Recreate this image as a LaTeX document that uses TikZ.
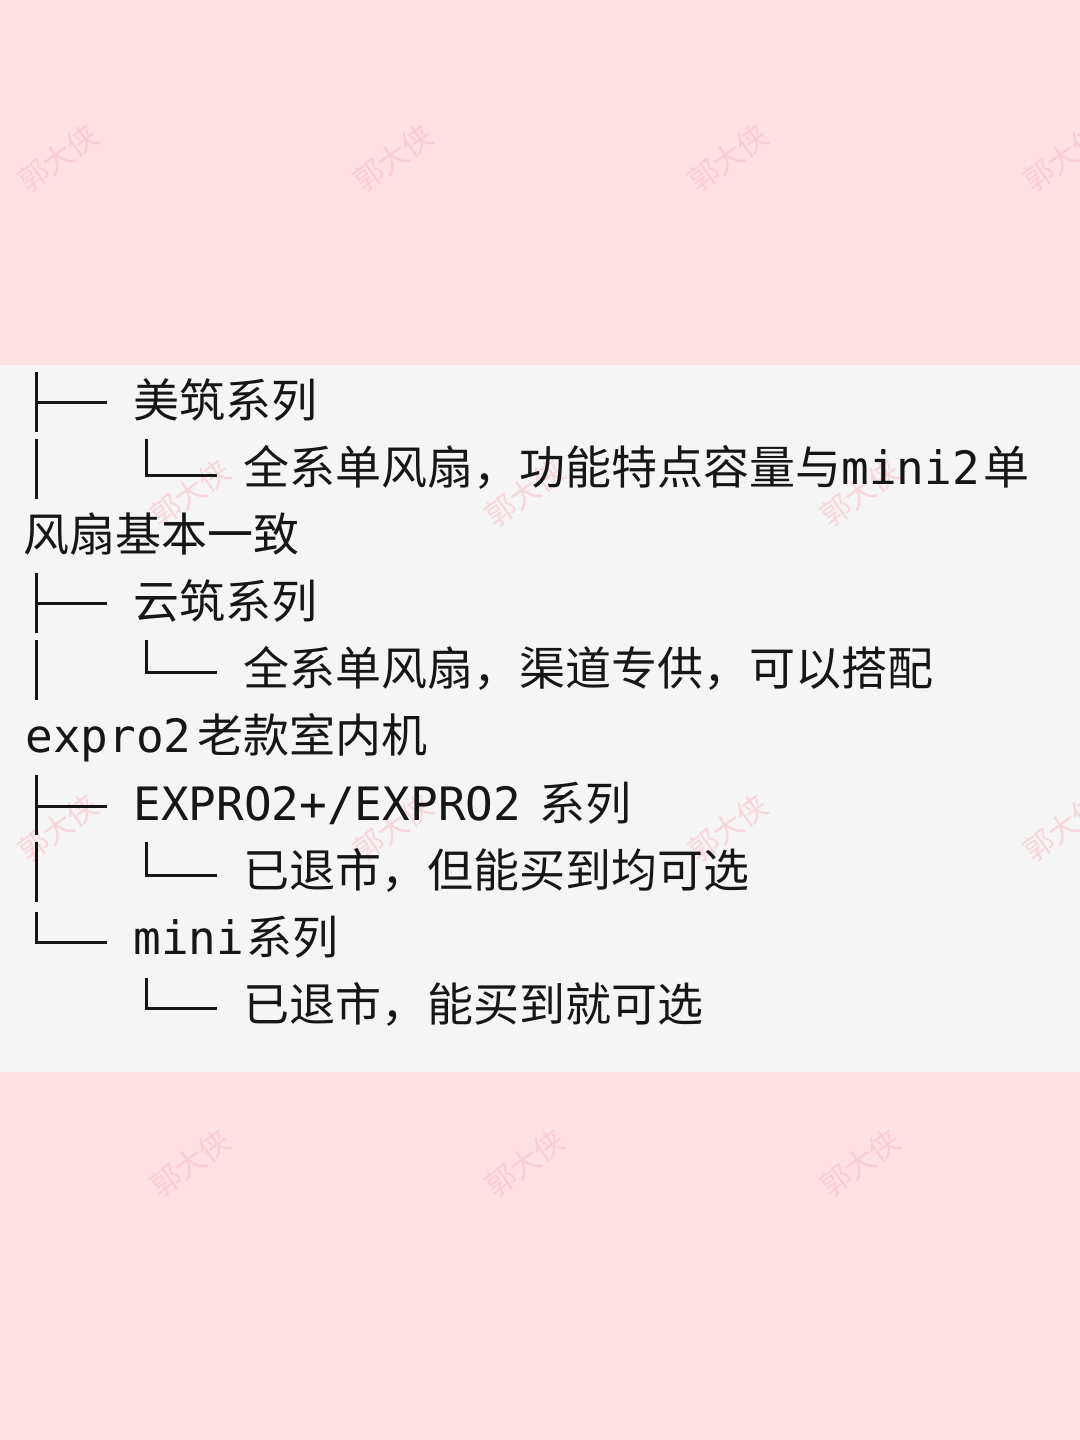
\documentclass[tikz,border=0pt]{standalone}
\usepackage{fontspec}
\newfontfamily\cjk{Noto Sans CJK SC}
\newfontfamily\mono{DejaVu Sans Mono}
\definecolor{bgpink}{RGB}{255,225,227}
\definecolor{panelgray}{RGB}{245,245,245}
\definecolor{ink}{RGB}{22,22,22}
\definecolor{wmpink}{RGB}{249,205,209}
\definecolor{wmpanel}{RGB}{246,216,220}
\tikzset{
  txt/.style={anchor=base west, inner sep=0pt, text=ink, font=\cjk\fontsize{23pt}{23pt}\selectfont},
  wm/.style={rotate=36, inner sep=0pt, font=\cjk\fontsize{15pt}{15pt}\selectfont},
  tree/.style={draw=ink, line width=1.5pt, line cap=butt, line join=miter}
}
\begin{document}
\begin{tikzpicture}[x=0.5pt,y=-0.5pt]
\useasboundingbox (0,0) rectangle (1080,1440);
\fill[bgpink] (0,0) rectangle (1080,1440);
\fill[panelgray] (0,365) rectangle (1080,1072);
% watermarks
\foreach \x [count=\k] in {58,393,728,1063}{
  \node[wm, text=wmpink] (wma\k) at (\x,158) {郭大侠};
  \node[wm, text=wmpanel] (wmc\k) at (\x,828) {郭大侠};
}
\foreach \x [count=\k] in {190,525,860}{
  \node[wm, text=wmpanel] (wmb\k) at (\x,493) {郭大侠};
  \node[wm, text=wmpink] (wmd\k) at (\x,1163) {郭大侠};
}
% text lines
\node[txt] (l1) at (133,417.5) {美筑系列};
\node[txt] (l2) at (243,484.5) {全系单风扇，功能特点容量与{\mono mini2}\hspace{2pt}单};
\node[txt] (l3) at (23,551.5) {风扇基本一致};
\node[txt] (l4) at (133,618.5) {云筑系列};
\node[txt] (l5) at (243,685.5) {全系单风扇，渠道专供，可以搭配};
\node[txt] (l6) at (25,752.5) {{\mono expro2}\hspace{3pt}老款室内机};
\node[txt] (l7) at (133,820.5) {{\mono EXPRO2+/EXPRO2}\hspace{9pt}系列};
\node[txt] (l8) at (243,887.5) {已退市，但能买到均可选};
\node[txt] (l9) at (133,954.5) {{\mono mini}\hspace{1pt}系列};
\node[txt] (l10) at (243,1021.5) {已退市，能买到就可选};
% tree glyphs
\coordinate (t1a) at (36,372); \coordinate (t1b) at (36,432);
\coordinate (t1m) at (36,402); \coordinate (t1e) at (107,402);
\draw[tree] (t1a) -- (t1b); \draw[tree] (t1m) -- (t1e);
\coordinate (t2a) at (36,439); \coordinate (t2b) at (36,499);
\draw[tree] (t2a) -- (t2b);
\coordinate (u2a) at (146,439); \coordinate (u2m) at (146,475); \coordinate (u2e) at (217,475);
\draw[tree] (u2a) -- (u2m) -- (u2e);
\coordinate (t4a) at (36,573); \coordinate (t4b) at (36,633);
\coordinate (t4m) at (36,603); \coordinate (t4e) at (107,603);
\draw[tree] (t4a) -- (t4b); \draw[tree] (t4m) -- (t4e);
\coordinate (t5a) at (36,640); \coordinate (t5b) at (36,700);
\draw[tree] (t5a) -- (t5b);
\coordinate (u5a) at (146,640); \coordinate (u5m) at (146,672); \coordinate (u5e) at (217,672);
\draw[tree] (u5a) -- (u5m) -- (u5e);
\coordinate (t7a) at (36,775); \coordinate (t7b) at (36,835);
\coordinate (t7m) at (36,806); \coordinate (t7e) at (107,806);
\draw[tree] (t7a) -- (t7b); \draw[tree] (t7m) -- (t7e);
\coordinate (t8a) at (36,842); \coordinate (t8b) at (36,902);
\draw[tree] (t8a) -- (t8b);
\coordinate (u8a) at (146,842); \coordinate (u8m) at (146,875); \coordinate (u8e) at (217,875);
\draw[tree] (u8a) -- (u8m) -- (u8e);
\coordinate (t9a) at (36,912); \coordinate (t9m) at (36,942); \coordinate (t9e) at (107,942);
\draw[tree] (t9a) -- (t9m) -- (t9e);
\coordinate (u10a) at (146,978); \coordinate (u10m) at (146,1008); \coordinate (u10e) at (217,1008);
\draw[tree] (u10a) -- (u10m) -- (u10e);
\end{tikzpicture}
\end{document}
